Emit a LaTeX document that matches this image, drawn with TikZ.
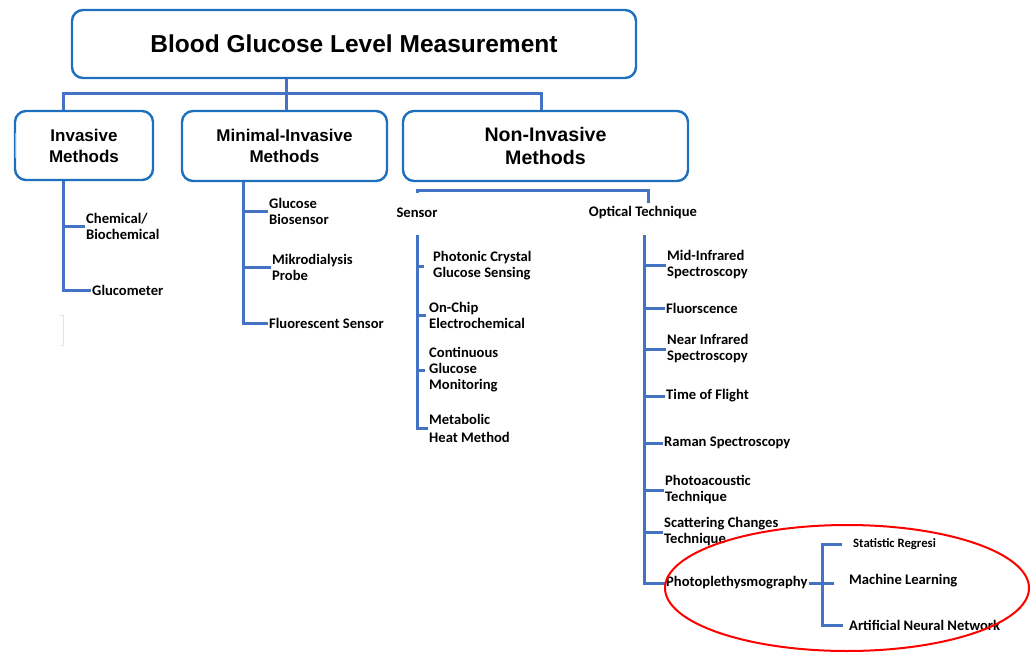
\documentclass[tikz,border=0pt]{standalone}
\usepackage{fontspec}
\setmainfont{Liberation Sans}
\newfontfamily\leaffont{Carlito}
\definecolor{boxblue}{RGB}{30,112,190}
\definecolor{lineblue}{RGB}{68,114,196}
\tikzset{
  box/.style={draw=boxblue, line width=2.4pt, rounded corners=11pt, fill=white,
    align=center, inner sep=2pt},
  branch/.style={draw=lineblue, line width=3pt},
  leaf/.style={anchor=west, align=left, inner sep=1pt,
    font=\leaffont\bfseries\fontsize{14.6}{16}\selectfont},
  head/.style={inner sep=1pt, font=\leaffont\bfseries\fontsize{14.6}{16}\selectfont},
}
\begin{document}
\begin{tikzpicture}[x=1pt,y=-1pt]
\useasboundingbox (0,0) rectangle (1034,653);

% top level boxes
\node[box, minimum width=564pt, minimum height=68pt,
  font=\bfseries\fontsize{24.5}{28}\selectfont] (title) at (354,44) {Blood Glucose Level Measurement};
\node[box, minimum width=138pt, minimum height=69pt,
  font=\bfseries\fontsize{17}{21}\selectfont] (inv) at (84,145.5) {Invasive\\Methods};
\node[box, minimum width=205pt, minimum height=70pt,
  font=\bfseries\fontsize{17}{21}\selectfont] (min) at (284.5,146) {Minimal-Invasive\\Methods};
\node[box, minimum width=285pt, minimum height=70pt,
  font=\bfseries\fontsize{19.6}{23}\selectfont] (non) at (545.5,146) {Non-Invasive\\Methods};
\draw[orange!80, line width=1pt] (15.5,133) -- (15.5,158);

% junction under the title
\coordinate (tj) at (286,93);
\coordinate (xa) at (63,0);
\coordinate (xc) at (541,0);
\draw[branch] (title.south -| tj) -- (tj);
\draw[branch] (inv.north -| xa) -- (xa |- tj) -- (xc |- tj) -- (non.north -| xc);
\draw[branch] (tj) -- (min.north -| tj);

% invasive branch
\node[leaf] (chem) at (85,226) {Chemical/\\Biochemical};
\node[leaf] (gluc) at (91,290) {Glucometer};
\draw[branch] (inv.south -| xa) -- (xa |- gluc.west) -- (gluc.west);
\draw[branch] (xa |- chem.west) -- (chem.west);
\draw[gray!20, line width=0.8pt] (60,315) -- (63,315) -- (63,345) -- (60,345);

% minimal-invasive branch
\coordinate (xm) at (243,0);
\node[leaf] (bios) at (268,211) {Glucose\\Biosensor};
\node[leaf] (mikro) at (271,267) {Mikrodialysis\\Probe};
\node[leaf] (fluo) at (268,323) {Fluorescent Sensor};
\draw[branch] (min.south -| xm) -- (xm |- fluo.west) -- (fluo.west);
\draw[branch] (xm |- bios.west) -- (bios.west);
\draw[branch] (xm |- mikro.west) -- (mikro.west);

% non-invasive: sensor / optical technique
\node[head] (sensor) at (417,213) {Sensor};
\node[head] (optic) at (643,213) {Optical Technique};
\coordinate (xs) at (417,0);
\coordinate (xo) at (644,0);
\draw[branch] (sensor.north) ++(0,-14) coordinate (bl) -- (bl |- 0,190) -- (648,190) -- (648,203);

% sensor list
\coordinate (st) at (417,235);
\node[leaf] (phot) at (432,266) {Photonic Crystal\\Glucose Sensing};
\node[leaf] (chip) at (428,315.5) {On-Chip\\Electrochemical};
\node[leaf] (cgm) at (428,370) {Continuous\\Glucose\\Monitoring};
\node[leaf, font=\leaffont\bfseries\fontsize{14.6}{18}\selectfont] (meta) at (428,428) {Metabolic\\Heat Method};
\draw[branch] (st) -- (xs |- meta.west) -- (meta.west);
\draw[branch] (xs |- phot.west) -- ++(7,0);
\draw[branch] (xs |- chip.west) -- ++(9,0);
\draw[branch] (xs |- cgm.west) -- ++(8,0);

% optical technique list
\coordinate (ot) at (644,235);
\node[leaf] (mir) at (666,265) {Mid-Infrared\\Spectroscopy};
\node[leaf] (flu) at (665,308) {Fluorscence};
\node[leaf] (nir) at (666,349) {Near Infrared\\Spectroscopy};
\node[leaf] (tof) at (665,396) {Time of Flight};
\node[leaf] (ram) at (663,443) {Raman Spectroscopy};
\node[leaf] (pac) at (664,490) {Photoacoustic\\Technique};
\node[leaf] (sct) at (663,532) {Scattering Changes\\Technique};
\node[leaf] (ppg) at (665,583) {Photoplethysmography};
\draw[branch] (ot) -- (xo |- ppg.west) -- (ppg.west);
\foreach \n in {mir,flu,nir,tof,ram,pac,sct}
  \draw[branch] (xo |- \n.west) -- (\n.west);

% photoplethysmography sub-branch
\coordinate (xp) at (822,0);
\node[leaf, font=\leaffont\bfseries\fontsize{12.7}{14}\selectfont] (stat) at (852,544) {Statistic Regresi};
\node[leaf] (ml) at (848,581) {Machine Learning};
\node[leaf] (ann) at (848,625) {Artificial Neural Network};
\draw[branch] (ppg.east) -- (xp |- ppg.east) -- ++(12,0);
\draw[branch] (stat.west) ++(-10,0) coordinate (sa) -- (xp |- sa) -- (xp |- ann.west) -- ++(21,0);

% highlight around the PPG methods
\draw[red, line width=2pt] (847,588) ellipse [x radius=182, y radius=63];
\end{tikzpicture}
\end{document}
